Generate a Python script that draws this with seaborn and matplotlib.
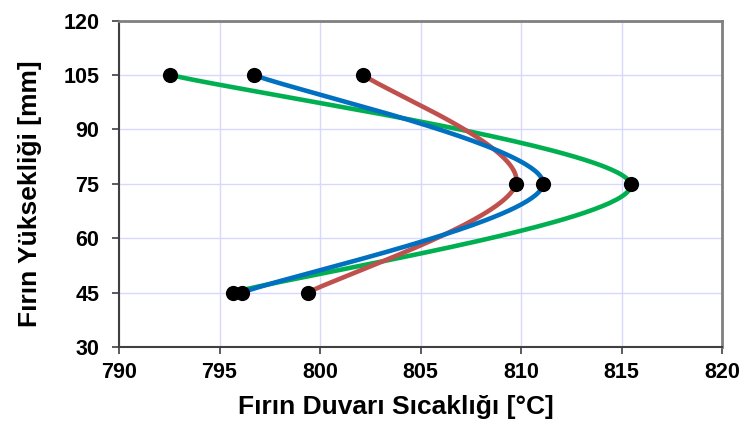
import numpy as np
import pandas as pd
import seaborn as sns
import matplotlib
matplotlib.use('Agg')
import matplotlib.pyplot as plt

# data
heights = [105, 75, 45]
temp_green = [792.55, 815.45, 795.65]
temp_blue = [796.7, 811.1, 796.1]
temp_red = [802.15, 809.75, 799.4]
series_colors = {'green': '#00B050', 'blue': '#0070C0', 'red': '#C0504D'}

xmin, xmax = 790, 820
ymin, ymax = 30, 120

# plot area in pixels
L, R, T, B = 119, 722, 20.5, 347
PW, PH = R - L, B - T


def excel_smooth(xs, ys, n=80):
    # Bezier smoothing like Excel's smoothed line, done in pixel space
    px = (np.array(xs) - xmin) / (xmax - xmin) * PW
    py = (np.array(ys) - ymin) / (ymax - ymin) * PH
    pts = np.column_stack([px, py])
    ext = np.vstack([pts[0], pts, pts[-1]])
    out = []
    t = np.linspace(0, 1, n)[:, None]
    for i in range(len(pts) - 1):
        p0, p3 = pts[i], pts[i + 1]
        p1 = p0 + (ext[i + 2] - ext[i]) / 6
        p2 = p3 - (ext[i + 3] - ext[i + 1]) / 6
        seg = (1 - t) ** 3 * p0 + 3 * (1 - t) ** 2 * t * p1 + 3 * (1 - t) * t ** 2 * p2 + t ** 3 * p3
        out.append(seg if i == 0 else seg[1:])
    out = np.vstack(out)
    return out[:, 0] / PW * (xmax - xmin) + xmin, out[:, 1] / PH * (ymax - ymin) + ymin


sns.set_style('white')
plt.rcParams['font.family'] = ['Liberation Sans', 'DejaVu Sans']
plt.rcParams['font.weight'] = 'bold'
plt.rcParams['text.color'] = 'black'
plt.rcParams['axes.labelcolor'] = 'black'
plt.rcParams['xtick.color'] = 'black'
plt.rcParams['ytick.color'] = 'black'

fig = plt.figure(figsize=(7.49, 4.28), dpi=100)
ax = fig.add_axes([L / 749, (428 - B) / 428, PW / 749, PH / 428])

data = {'green': temp_green, 'blue': temp_blue, 'red': temp_red}
for name in ['green', 'red', 'blue']:
    cx, cy = excel_smooth(data[name], heights)
    sns.lineplot(x=cx, y=cy, sort=False, estimator=None, color=series_colors[name],
                 linewidth=3.3, ax=ax, zorder=3)

pts = pd.DataFrame({'temp': temp_green + temp_blue + temp_red, 'height': heights * 3})
sns.scatterplot(data=pts, x='temp', y='height', marker='o', s=120, color='black',
                edgecolor='black', linewidth=0, ax=ax, zorder=5)

ax.set_xlim(xmin, xmax)
ax.set_ylim(ymin, ymax)
ax.set_xticks(np.arange(790, 821, 5))
ax.set_yticks(np.arange(30, 121, 15))
ax.grid(True, color='#d8d8ff', linewidth=1)
ax.set_axisbelow(True)
for side in ['top', 'right']:
    ax.spines[side].set_color('#808080')
    ax.spines[side].set_linewidth(2)
for side in ['left', 'bottom']:
    ax.spines[side].set_color('#404040')
    ax.spines[side].set_linewidth(1.5)
ax.tick_params(axis='both', direction='out', length=5, width=1.2, color='#404040',
               labelsize=15.5, labelcolor='black', bottom=True, left=True)
ax.tick_params(axis='x', pad=6)
ax.tick_params(axis='y', pad=9)
for lab in ax.get_xticklabels() + ax.get_yticklabels():
    lab.set_fontweight('bold')

ax.set_xlabel('Fırın Duvarı Sıcaklığı [°C]', fontsize=19, fontweight='bold')
ax.set_ylabel('Fırın Yüksekliği [mm]', fontsize=19, fontweight='bold')
ax.xaxis.set_label_coords(0.459, -0.147)
ax.yaxis.set_label_coords(-0.128, 0.47)

fig.savefig('out.png', dpi=100)
